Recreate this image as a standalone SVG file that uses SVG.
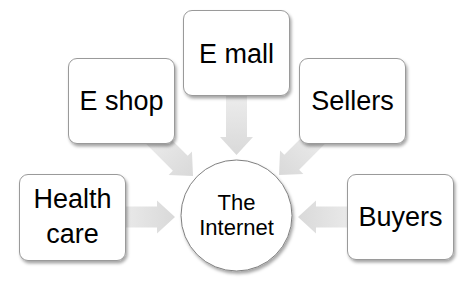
<svg xmlns="http://www.w3.org/2000/svg" width="473" height="281" viewBox="0 0 473 281">
<style>
.box{fill:#fff;stroke:#9a9a9a;stroke-width:1;filter:url(#sh)}
.hub{fill:#fff;stroke:#7f7f7f;stroke-width:1;filter:url(#sh)}
.lbl{font-family:"Liberation Sans",Arial,sans-serif;font-size:27px;fill:#000;text-anchor:middle}
.hl{font-family:"Liberation Sans",Arial,sans-serif;font-size:22px;fill:#000;text-anchor:middle}
.arr{fill:url(#ag)}
</style>
<defs>
<filter id="sh" x="-20%" y="-20%" width="140%" height="140%">
<feDropShadow dx="1.5" dy="2.5" stdDeviation="1.6" flood-color="#000" flood-opacity="0.35"/>
</filter>
<linearGradient id="ag" x1="0" y1="0" x2="1" y2="0">
<stop offset="0" stop-color="#ededed"/>
<stop offset="1" stop-color="#d9d9d9"/>
</linearGradient>
<polygon id="ar" points="-62,-10.5 -18,-10.5 -18,-16.5 0,0 -18,16.5 -18,10.5 -62,10.5"/>
</defs>
<g id="connectors">
<use href="#ar" class="arr" transform="translate(175,217)"/>
<use href="#ar" class="arr" transform="translate(298,217) rotate(180)"/>
<use href="#ar" class="arr" transform="translate(236.5,155) rotate(90)"/>
<use href="#ar" class="arr" transform="translate(193,176) rotate(45)"/>
<use href="#ar" class="arr" transform="translate(279,175) rotate(135)"/>
</g>
<g id="health-care">
<rect class="box" x="19.5" y="174.5" width="106" height="86" rx="8.5"/>
<text class="lbl" x="72.5" y="208">Health</text>
<text class="lbl" x="72.5" y="243">care</text>
</g>
<g id="e-shop">
<rect class="box" x="68.5" y="58.5" width="106" height="85" rx="8.5"/>
<text class="lbl" x="121.5" y="110">E shop</text>
</g>
<g id="e-mall">
<rect class="box" x="183.5" y="10.5" width="106" height="85" rx="8.5"/>
<text class="lbl" x="236.5" y="62.5">E mall</text>
</g>
<g id="sellers">
<rect class="box" x="299.5" y="58.5" width="106" height="85" rx="8.5"/>
<text class="lbl" x="352.5" y="110">Sellers</text>
</g>
<g id="buyers">
<rect class="box" x="347.5" y="174.5" width="106" height="85" rx="8.5"/>
<text class="lbl" x="400.5" y="225.5">Buyers</text>
</g>
<g id="the-internet">
<circle class="hub" cx="236.5" cy="215.5" r="55.5"/>
<text class="hl" x="236.5" y="210">The</text>
<text class="hl" x="236.5" y="235">Internet</text>
</g>
</svg>
